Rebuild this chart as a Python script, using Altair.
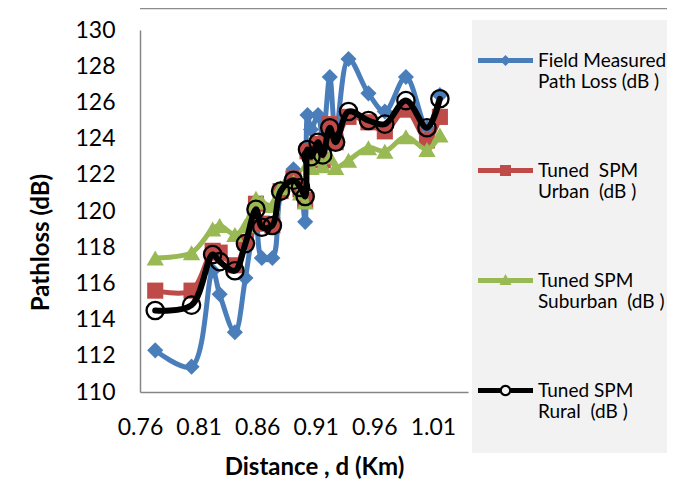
import math
import altair as alt
import pandas as pd

# ---------------- data ----------------
distance = [0.773, 0.804, 0.822, 0.828, 0.841, 0.850, 0.859, 0.864, 0.873, 0.880,
            0.891, 0.897, 0.901, 0.903, 0.906, 0.912, 0.916, 0.922, 0.927, 0.938,
            0.955, 0.969, 0.987, 1.005, 1.016]
field = [112.3, 111.4, 116.7, 115.4, 113.3, 116.3, 119.6, 117.4, 117.4, 120.9,
         122.3, 121.4, 119.4, 125.3, 124.5, 125.3, 124.0, 127.4, 124.3, 128.4,
         126.5, 125.5, 127.4, 124.6, 126.4]
urban = [115.6, 115.6, 117.8, 117.7, 117.0, 118.3, 120.4, 119.3, 119.2, 121.1,
         121.8, 121.2, 120.6, 123.3, 122.9, 123.7, 122.8, 124.8, 123.8, 125.2,
         124.9, 124.4, 125.6, 123.9, 125.2]
suburban = [117.4, 117.7, 119.0, 119.2, 118.7, 119.2, 120.7, 120.5, 120.3, 121.3,
            121.6, 121.0, 120.5, 122.6, 122.4, 122.9, 122.5, 123.0, 122.4, 122.8,
            123.5, 123.3, 124.1, 123.4, 124.2]
rural = [114.5, 114.8, 117.6, 117.2, 116.7, 118.2, 120.1, 119.1, 119.2, 121.1,
         121.7, 121.3, 120.8, 123.4, 123.0, 123.8, 123.1, 124.6, 123.8, 125.5,
         125.0, 124.8, 126.1, 124.6, 126.2]

series_names = [
    "Field Measured|Path Loss (dB )",
    "Tuned\u00a0 SPM|Urban\u00a0 (dB )",
    "Tuned SPM|Suburban\u00a0 (dB )",
    "Tuned SPM|Rural\u00a0 (dB )",
]
series_values = [field, urban, suburban, rural]
x_ticks = [0.76, 0.81, 0.86, 0.91, 0.96, 1.01]
y_ticks = [110, 112, 114, 116, 118, 120, 122, 124, 126, 128, 130]

# ---------------- styles ----------------
colors = ["#4a7ebb", "#be4b48", "#98b954", "#000000"]
line_widths = [5, 5, 5, 6]
FONT = "Lato"
W, H = 328, 362
X_DOMAIN = [0.76, 1.04]

rows = []
for name, vals in zip(series_names, series_values):
    for d, v in zip(distance, vals):
        rows.append({"d": d, "pl": v, "s": name})
df = pd.DataFrame(rows)

# ---- custom legend symbols (line + marker), unit = sqrt(size)/2 px ----
S = 27.5
DY = 0.0
LPAD = 13
DX = -(LPAD - 6)


def u(v):
    return f"{v / S:.4f}"


def rect(x0, x1, y0, y1):
    x0 += DX
    x1 += DX
    return f"M{u(x0)},{u(y0)}L{u(x1)},{u(y0)}L{u(x1)},{u(y1)}L{u(x0)},{u(y1)}Z"


def poly(pts):
    return "M" + "L".join(f"{u(x + DX)},{u(y)}" for x, y in pts) + "Z"


def circle_pts(r, cy, n=24, rev=False):
    pts = []
    for k in range(n):
        t = 2 * math.pi * k / n
        if rev:
            t = -t
        pts.append((r * math.cos(t), cy + r * math.sin(t)))
    return pts


LH = 2.5
p_blue = rect(-S, S, DY - LH, DY + LH) + poly([(0, DY - 5.5), (5.5, DY), (0, DY + 5.5), (-5.5, DY)])
p_red = rect(-S, S, DY - LH, DY + LH) + rect(-5.5, 5.5, DY - 5.5, DY + 5.5)
p_green = rect(-S, S, DY - LH, DY + LH) + poly([(0, DY - 6.5), (6, DY + 4.5), (-6, DY + 4.5)])
p_black = (rect(-S, -5.5, DY - LH, DY + LH) + rect(5.5, S, DY - LH, DY + LH)
           + poly(circle_pts(5.8, DY)) + poly(circle_pts(3.6, DY, rev=True)))
legend_shapes = [p_blue, p_red, p_green, p_black]

x_enc = alt.X(
    "d:Q",
    scale=alt.Scale(domain=X_DOMAIN, nice=False, zero=False),
    axis=alt.Axis(values=x_ticks, format=".2f", title="Distance , d (Km)",
                  labelPadding=24, titlePadding=16, titleX=174, labelFlush=False,
                  labelOverlap=False),
)
y_enc = alt.Y(
    "pl:Q",
    scale=alt.Scale(domain=[110, 130], nice=False, zero=False),
    axis=alt.Axis(values=y_ticks, title="Pathloss (dB)", labelPadding=25,
                  titlePadding=21, titleY=212, labelOverlap=False),
)

base = alt.Chart(df)
layers = []

# top edge of the chart-area frame
frame_df = pd.DataFrame({"k": [0]})
layers.append(alt.Chart(frame_df).mark_rule(color="#8c8c8c", strokeWidth=1.5).encode(
    x=alt.value(0), x2=alt.value(540), y=alt.value(alt.expr("-21.5"))))

marker_defs = [
    dict(shape="diamond", filled=True, size=260),
    dict(shape="square", filled=True, size=260),
    dict(shape="triangle-up", filled=True, size=300),
    dict(shape="circle", filled=False, size=300, strokeWidth=2.3),
]

for name, col, lw, md in zip(series_names, colors, line_widths, marker_defs):
    sub = base.transform_filter(alt.datum.s == name)
    layers.append(sub.mark_line(color=col, strokeWidth=lw, interpolate="catmull-rom",
                                strokeJoin="round", strokeCap="round").encode(
        x=x_enc, y=y_enc))
    layers.append(sub.mark_point(color=col, opacity=1, **md).encode(x=x_enc, y=y_enc))

legend = alt.Legend(
    title="\u00a0", titleOrient="bottom", titleFontSize=10, titlePadding=8,
    orient="none", legendX=332, legendY=-10,
    fillColor="#f2f2f2", padding=LPAD, symbolSize=3025, symbolOpacity=1,
    symbolStrokeWidth=0, labelFont=FONT, labelFontSize=19, labelColor="black",
    labelExpr="split(datum.label, '|')", labelBaseline="middle",
    labelOffset=alt.expr(str(5 + DX)), labelLimit=300, rowPadding=51,
)
layers.append(base.mark_point(filled=True, opacity=0).encode(
    x=x_enc, y=y_enc,
    color=alt.Color("s:N", scale=alt.Scale(domain=series_names, range=colors), legend=legend),
    shape=alt.Shape("s:N", scale=alt.Scale(domain=series_names, range=legend_shapes), legend=legend),
))

chart = alt.layer(*layers).properties(
    width=W, height=H,
    autosize=alt.AutoSizeParams(type="none"),
    padding={"left": 132, "top": 22, "right": 199, "bottom": 90},
    background="white",
).configure_view(strokeWidth=0).configure_axis(
    domainColor="#868686", domainWidth=1.5, ticks=False, tickSize=0, grid=False,
    labelFont=FONT, labelFontSize=23, labelColor="black",
    titleFont=FONT, titleFontSize=24, titleFontWeight="bold", titleColor="black",
)

chart.save("out.html", embed_options={"renderer": "svg", "actions": False})
